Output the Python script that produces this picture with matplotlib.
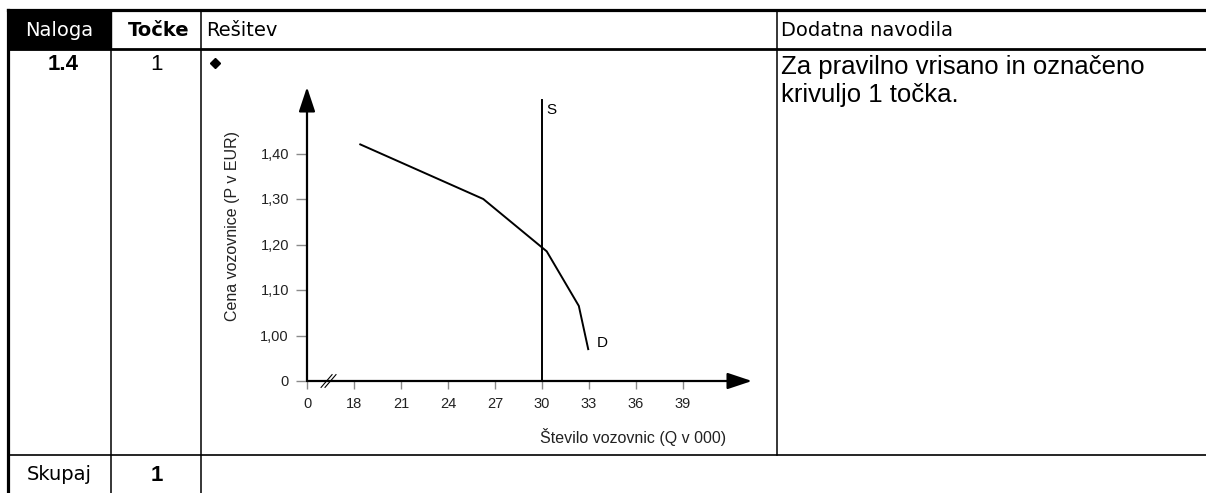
import numpy as np
import matplotlib
matplotlib.use("Agg")
import matplotlib.pyplot as plt
from matplotlib.patches import Rectangle

W, H, DPI = 1206, 493, 100

# demand curve D (Q in thousands of tickets, P in EUR)
demand_q = [18.4, 26.25, 30.3, 32.35, 32.95]
demand_p = [1.42, 1.30, 1.185, 1.065, 0.97]
# supply S is fixed at 30 000 tickets
supply_q = 30
supply_p = [0.9, 1.518]

# axes are broken: the "0" tick stands at Q=15 and P=0.90
x_ticks = [15, 18, 21, 24, 27, 30, 33, 36, 39]
x_labels = ['0', '18', '21', '24', '27', '30', '33', '36', '39']
y_ticks = [0.9, 1.0, 1.1, 1.2, 1.3, 1.4]
y_labels = ['0', '1,00', '1,10', '1,20', '1,30', '1,40']

header = ['Naloga', 'Točke', 'Rešitev', 'Dodatna navodila']
task = '1.4'
points = '1'
note = ['Za pravilno vrisano in označeno', 'krivuljo 1 točka.']
total_label = 'Skupaj'
total_points = '1'

fig = plt.figure(figsize=(W / DPI, H / DPI), dpi=DPI)

# ---- table frame, drawn in pixel coordinates ----
tab = fig.add_axes([0, 0, 1, 1])
tab.set_xlim(0, W)
tab.set_ylim(H, 0)
tab.axis('off')

col_x = [7.5, 111, 201, 777]
row_y = [9.5, 49, 454.5]

tab.add_patch(Rectangle((col_x[0], row_y[0]), col_x[1] - col_x[0], row_y[1] - row_y[0],
                        color='black', zorder=1))
tab.plot([col_x[0], W], [row_y[0]] * 2, color='black', lw=2.3)
tab.plot([col_x[0], W], [row_y[1]] * 2, color='black', lw=2.0)
tab.plot([col_x[0], W], [row_y[2]] * 2, color='black', lw=1.2)
tab.plot([col_x[0]] * 2, [row_y[0], H], color='black', lw=2.3)
tab.plot([col_x[1]] * 2, [row_y[0], H], color='black', lw=1.1)
tab.plot([col_x[2]] * 2, [row_y[0], H], color='black', lw=1.1)
tab.plot([col_x[3]] * 2, [row_y[0], row_y[2]], color='black', lw=1.1)

hdr_font = dict(family='DejaVu Sans', fontsize=14, va='baseline')
tab.text(59, 36, header[0], color='white', ha='center', **hdr_font)
tab.text(159, 36, header[1], color='black', ha='center', fontweight='bold', **hdr_font)
tab.text(206, 36, header[2], color='black', ha='left', **hdr_font)
tab.text(781, 36, header[3], color='black', ha='left', **hdr_font)
tab.text(59, 480, total_label, color='black', ha='center', **hdr_font)

body_font = dict(family='Liberation Sans', va='baseline')
tab.text(63, 70, task, ha='center', fontsize=16, fontweight='bold', **body_font)
tab.text(157, 70, points, ha='center', fontsize=16, **body_font)
tab.text(157, 481, total_points, ha='center', fontsize=16, fontweight='bold', **body_font)
tab.text(781, 74, note[0], ha='left', fontsize=18.5, **body_font)
tab.text(781, 102, note[1], ha='left', fontsize=18.5, **body_font)
tab.plot([215], [63], marker='D', ms=5, color='black')

# ---- chart, placed so that origin sits at pixel (307, 381) ----
ox, oy = 307, 381
px_per_q = 47 / 3
px_per_p = 45.5 / 0.1
left, right, top, bottom = 270, 775, 80, 420
ax = fig.add_axes([left / W, (H - bottom) / H, (right - left) / W, (bottom - top) / H])
ax.patch.set_alpha(0)
ax.set_xlim(15 + (left - ox) / px_per_q, 15 + (right - ox) / px_per_q)
ax.set_ylim(0.9 - (bottom - oy) / px_per_p, 0.9 + (oy - top) / px_per_p)

for s in ax.spines.values():
    s.set_visible(False)
ax.spines['left'].set_position(('data', 15))
ax.spines['bottom'].set_position(('data', 0.9))

ax.set_xticks(x_ticks, x_labels)
ax.set_yticks(y_ticks, y_labels)
ax.tick_params(axis='x', direction='out', length=6, width=1, color='#8a8a8a',
               labelsize=10.5, labelcolor='#222222', pad=5.5)
ax.tick_params(axis='y', direction='out', length=8, width=1, color='#8a8a8a',
               labelsize=10.5, labelcolor='#222222', pad=5)
for lab in ax.get_xticklabels() + ax.get_yticklabels():
    lab.set_fontfamily('Liberation Sans')

arrow = dict(arrowstyle='-|>,head_length=0.75,head_width=0.25', color='black',
             lw=1.6, mutation_scale=20, shrinkA=0, shrinkB=0)
ax.annotate('', xy=(15, 1.546), xytext=(15, 0.9), arrowprops=arrow)
ax.annotate('', xy=(43.4, 0.9), xytext=(15, 0.9), arrowprops=arrow)

# axis break marks
for q0 in [16.25, 16.5]:
    ax.plot([q0 - 0.35, q0 + 0.35], [0.9 - 0.014, 0.9 + 0.014], color='black', lw=0.8)

ax.plot([supply_q, supply_q], supply_p, color='black', lw=1.4)
ax.plot(demand_q, demand_p, color='black', lw=1.4, solid_joinstyle='miter')
ax.text(supply_q + 0.25, 1.495, 'S', fontsize=11, family='Liberation Sans', va='center')
ax.text(demand_q[-1] + 0.55, 0.983, 'D', fontsize=11, family='Liberation Sans', va='center')

ax.set_xlabel('Število vozovnic (Q v 000)', fontsize=11.5, family='Liberation Sans',
              color='#222222')
ax.xaxis.set_label_coords((633 - left) / (right - left), (bottom - 437) / (bottom - top))
ax.set_ylabel('Cena vozovnice (P v EUR)', fontsize=11.5, family='Liberation Sans',
              color='#222222')
ax.yaxis.set_label_coords((232 - left) / (right - left), (bottom - 226) / (bottom - top))
ax.xaxis.label.set_va('center')
ax.yaxis.label.set_va('center')

fig.savefig('out.png', dpi=DPI)
